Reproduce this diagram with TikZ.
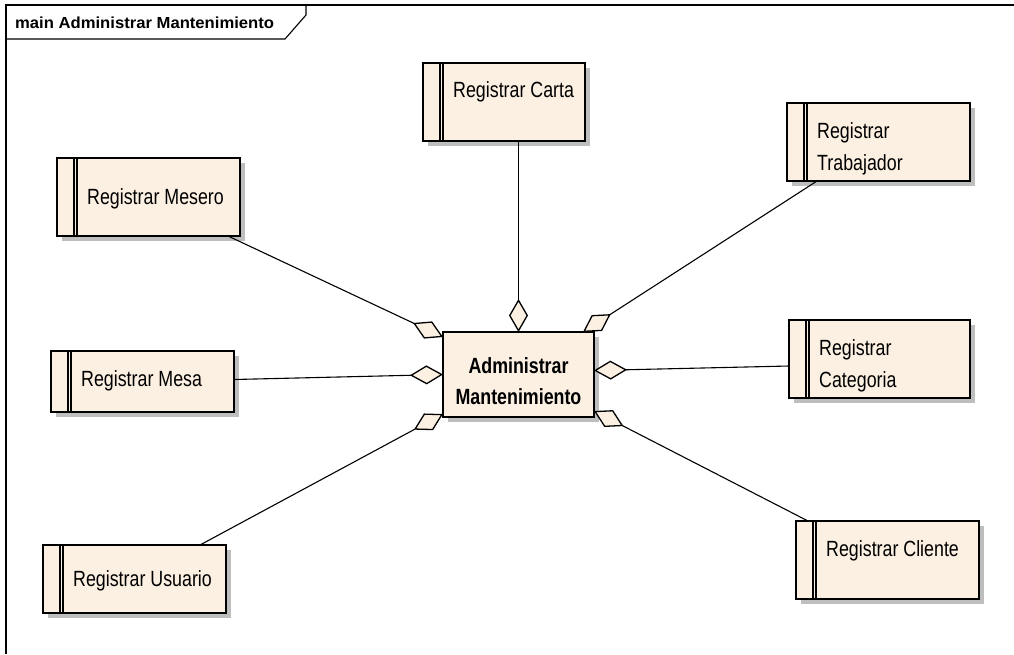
\documentclass[tikz,border=0pt]{standalone}
\usepackage{fontspec}
\setmainfont{Liberation Sans}
\newfontfamily\boxfont[FakeStretch=0.81]{Liberation Sans}
\newfontfamily\framefont[FakeStretch=1.04]{Liberation Sans}
\usetikzlibrary{arrows.meta,calc,shadows}
\definecolor{boxfill}{RGB}{251,240,226}
\definecolor{shadowgray}{RGB}{190,190,190}

\begin{document}
\begin{tikzpicture}[x=1pt,y=-1pt,
  plainbox/.style={draw=black, line width=1.4pt, fill=boxfill, rectangle,
    inner sep=0pt, outer sep=0pt, anchor=north west,
    drop shadow={shadow xshift=5pt, shadow yshift=-5pt, fill=shadowgray, opacity=1}},
  regbox/.style={plainbox,
    path picture={
      \draw[line width=1.1pt] ([xshift=17pt]path picture bounding box.north west)
        -- ([xshift=17pt]path picture bounding box.south west);
      \draw[line width=1.1pt] ([xshift=20pt]path picture bounding box.north west)
        -- ([xshift=20pt]path picture bounding box.south west);}},
  regtext/.style={anchor=north west, inner sep=0pt, align=left,
    font=\boxfont\fontsize{22}{32}\selectfont},
  conn/.style={draw=black, line width=1.1pt,
    -{Diamond[length=33pt, width=19pt, fill=boxfill, line width=1.3pt]}}
]
\useasboundingbox (0,0) rectangle (1014,654);

% diagram frame and its name tab
\draw[line width=1.3pt] (1014,5) -- (6,5) -- (6,654);
\draw[line width=1.1pt] (6,39) -- (285,39) -- (306,15) -- (306,5);
\node[anchor=base west, inner sep=0pt,
  font=\framefont\bfseries\fontsize{16}{18}\selectfont] (title) at (15,28.5)
  {main Administrar Mantenimiento};

% components
\node[regbox, minimum width=162pt, minimum height=78pt] (carta) at (423,63) {};
\node[regbox, minimum width=183pt, minimum height=78pt] (trab) at (787,103) {};
\node[regbox, minimum width=183pt, minimum height=78pt] (mesero) at (57,158) {};
\node[regbox, minimum width=183pt, minimum height=61pt] (mesa) at (51,351) {};
\node[regbox, minimum width=181pt, minimum height=78pt] (cat) at (789,320) {};
\node[regbox, minimum width=183pt, minimum height=68pt] (usuario) at (43,545) {};
\node[regbox, minimum width=183pt, minimum height=78pt] (cliente) at (796,521) {};
\node[plainbox, minimum width=151pt, minimum height=85pt] (adm) at (443,332) {};

% component names
\node[regtext] (carta-t) at ($(carta.north west)+(30,18.5)$) {Registrar Carta};
\node[regtext] (trab-t) at ($(trab.north west)+(30,19)$) {Registrar\\Trabajador};
\node[regtext] (mesero-t) at ($(mesero.north west)+(30,30)$) {Registrar Mesero};
\node[regtext] (mesa-t) at ($(mesa.north west)+(30,19)$) {Registrar Mesa};
\node[regtext] (cat-t) at ($(cat.north west)+(30,19)$) {Registrar\\Categoria};
\node[regtext] (usuario-t) at ($(usuario.north west)+(30,25)$) {Registrar Usuario};
\node[regtext] (cliente-t) at ($(cliente.north west)+(30,19)$) {Registrar Cliente};
\node[regtext, anchor=north, align=center, font=\boxfont\bfseries\fontsize{22}{31}\selectfont]
  (adm-t) at ($(adm.north)+(0,25.5)$) {Administrar\\Mantenimiento};

% aggregation links
\draw[conn] (adm.north |- carta.south) -- (adm.north);
\draw[conn] ($(mesero.south east)+(-12,0)$) -- ($(adm.north west)+(0,5)$);
\draw[conn] ($(mesa.east)+(0,-2)$) -- (adm.west);
\draw[conn] ($(usuario.north east)+(-26,0)$) -- ($(adm.south west)+(0,-3)$);
\draw[conn] ($(trab.south west)+(30,0)$) -- ($(adm.north east)+(-11,0)$);
\draw[conn] ($(cat.west)+(0,7)$) -- ($(adm.east)+(0,-4)$);
\draw[conn] ($(cliente.north west)+(12,0)$) -- ($(adm.south east)+(0,-6)$);
\end{tikzpicture}
\end{document}
